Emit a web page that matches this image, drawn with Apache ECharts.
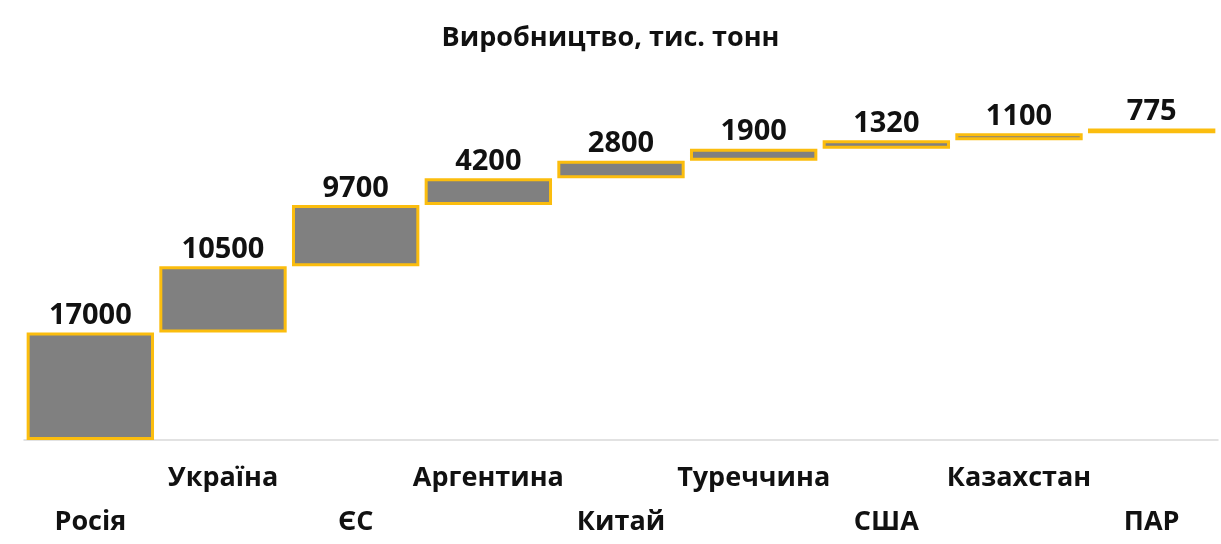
<!DOCTYPE html>
<html>
<head>
<meta charset="utf-8">
<script src="https://cdn.jsdelivr.net/npm/echarts@6/dist/echarts.min.js"></script>
<style>
html,body{margin:0;padding:0;background:#fff;}
#c{width:1221px;height:544px;}
</style>
</head>
<body>
<div id="c"></div>
<script>
var categories = ['Росія', 'Україна', 'ЄС', 'Аргентина', 'Китай', 'Туреччина', 'США', 'Казахстан', 'ПАР'];
var values = [17000, 10500, 9700, 4200, 2800, 1900, 1320, 1100, 775];
var titleText = 'Виробництво, тис. тонн';

var base = [];
var acc = 0;
for (var i = 0; i < values.length; i++) { base.push(acc); acc += values[i]; }

var FONT = '"Open Sans", "Noto Sans", sans-serif';
var chart = echarts.init(document.getElementById('c'));
chart.setOption({
  animation: false,
  backgroundColor: '#ffffff',
  title: {
    text: titleText,
    left: 'center',
    top: 20,
    textStyle: { fontFamily: FONT, fontSize: 27, fontWeight: 'bold', color: '#111111' }
  },
  grid: { left: 24, right: 3, top: 124, bottom: 104, containLabel: false },
  xAxis: {
    type: 'category',
    data: categories,
    axisLine: { show: true, lineStyle: { color: '#d9d9d9', width: 1.5 } },
    axisTick: { show: false },
    axisLabel: {
      interval: 0,
      margin: 16,
      fontFamily: FONT,
      fontSize: 27,
      fontWeight: 'bold',
      color: '#111111',
      lineHeight: 44,
      formatter: function (v, idx) { return idx % 2 === 0 ? '\n' + v : v; }
    }
  },
  yAxis: {
    type: 'value',
    min: 0,
    max: 50000,
    show: false,
    splitLine: { show: false }
  },
  series: [
    {
      type: 'bar',
      stack: 'w',
      data: base,
      itemStyle: { color: 'transparent' },
      emphasis: { disabled: true },
      barCategoryGap: '4%',
      silent: true
    },
    {
      type: 'bar',
      stack: 'w',
      data: values,
      barCategoryGap: '4%',
      itemStyle: { color: '#808080', borderColor: '#FBBD0E', borderWidth: 3 },
      label: {
        show: true,
        position: 'top',
        distance: 2,
        fontFamily: FONT,
        fontSize: 29,
        fontWeight: 'bold',
        color: '#111111'
      }
    }
  ]
});
</script>
</body>
</html>
